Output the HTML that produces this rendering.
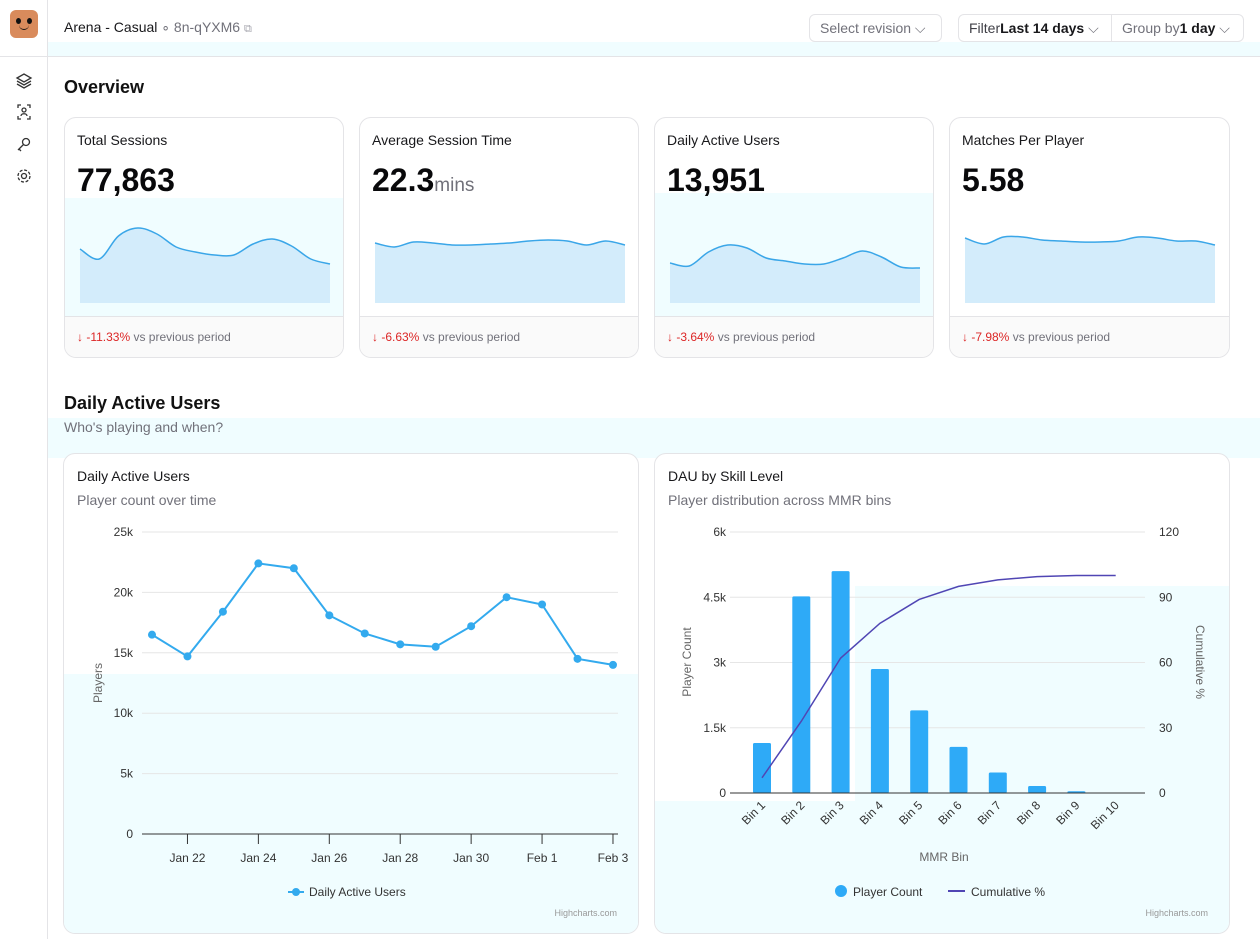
<!DOCTYPE html>
<html><head><meta charset="utf-8"><style>
*{box-sizing:border-box;margin:0;padding:0}
body{width:1260px;height:939px;background:#fff;font-family:"Liberation Sans",sans-serif;color:#111;position:relative;overflow:hidden}
.abs{position:absolute}
.card{position:absolute;border:1px solid #e4e4e7;border-radius:12px;background:#fff;overflow:hidden}
.kt{position:absolute;left:12px;top:14px;font-size:14px;color:#18181b}
.kv{position:absolute;left:12px;top:44px;font-size:32px;font-weight:bold;color:#09090b}
.kv small{font-size:19px;font-weight:normal;color:#71717a}
.foot{position:absolute;left:0;right:0;top:198px;bottom:0;background:#fafafa;border-top:1px solid #e4e4e7;font-size:12px;color:#71717a;padding:13px 12px}
.foot b{color:#dc2626;font-weight:normal}
.btn{position:absolute;top:14px;height:28px;border:1px solid #e4e4e7;border-radius:6px;font-size:14px;color:#71717a;line-height:26px;padding:0 10px}
</style></head><body>
<div class="abs" style="left:0;top:0;width:48px;height:939px;border-right:1px solid #e4e4e7;background:#fff"></div>
<div class="abs" style="left:10px;top:10px;width:28px;height:28px;border-radius:6px;background:#d98b5c">
 <div class="abs" style="left:6px;top:8px;width:5px;height:6px;border-radius:50%;background:#111"></div>
 <div class="abs" style="left:17px;top:8px;width:5px;height:6px;border-radius:50%;background:#111"></div>
 <div class="abs" style="left:9px;top:15px;width:10px;height:5px;border-bottom:1.5px solid #111;border-radius:0 0 6px 6px"></div>
</div>
<div class="abs" style="left:0;top:56px;width:48px;border-top:1px solid #e4e4e7"></div>
<svg class="abs" style="left:14px;top:70px" width="22" height="120" fill="none" stroke="#333" stroke-width="1.3">
 <g><path d="M3 8 L10 4 L17 8 L10 12Z M3 11 L10 15 L17 11 M3 14 L10 18 L17 14"/></g>
 <g><path d="M4 38v-3h3 M13 35h3v3 M4 46v3h3 M13 49h3v-3"/><circle cx="10" cy="40" r="2"/><path d="M7 46c0-3 6-3 6 0"/></g>
 <g><circle cx="12" cy="72" r="3.5"/><path d="M9.5 74.5 L4 80 M5 79 L7 81"/></g>
 <g><circle cx="10" cy="106" r="2.5"/><circle cx="10" cy="106" r="6" stroke-dasharray="3 1.7"/></g>
</svg>
<div class="abs" style="left:48px;top:0;width:1212px;height:57px;border-bottom:1px solid #e4e4e7"></div>
<div class="abs" style="left:48px;top:42px;width:1212px;height:14px;background:#f0fdff"></div>
<div class="abs" style="left:64px;top:19px;font-size:14px;color:#18181b">Arena - Casual <span style="color:#71717a">∘ 8n-qYXM6</span> <span style="color:#a1a1aa;font-size:11px">⧉</span></div>
<div class="btn" style="left:809px;width:133px">Select revision ⌵</div>
<div class="btn" style="left:958px;width:154px;border-radius:6px 0 0 6px"><span style="color:#3f3f46">Filter</span><b style="color:#18181b">Last 14 days</b> ⌵</div>
<div class="btn" style="left:1111px;width:133px;border-radius:0 6px 6px 0">Group by<b style="color:#18181b">1 day</b> ⌵</div>

<div class="abs" style="left:64px;top:77px;font-size:18px;font-weight:bold">Overview</div>

<div class="card" style="left:64px;top:117px;width:280px;height:241px">
 <div class="abs" style="left:0;top:80px;width:280px;height:118px;background:#f0fdff"></div>
 <div class="kt">Total Sessions</div><div class="kv">77,863</div>
 <svg class="abs" style="left:0;top:0" width="280" height="200" id="sp0"></svg>
 <div class="foot"><b>↓ -11.33%</b> vs previous period</div></div>
<div class="card" style="left:359px;top:117px;width:280px;height:241px">
 <div class="kt">Average Session Time</div><div class="kv">22.3<small>mins</small></div>
 <svg class="abs" style="left:0;top:0" width="280" height="200" id="sp1"></svg>
 <div class="foot"><b>↓ -6.63%</b> vs previous period</div></div>
<div class="card" style="left:654px;top:117px;width:280px;height:241px">
 <div class="abs" style="left:0;top:75px;width:280px;height:123px;background:#f0fdff"></div>
 <div class="kt">Daily Active Users</div><div class="kv">13,951</div>
 <svg class="abs" style="left:0;top:0" width="280" height="200" id="sp2"></svg>
 <div class="foot"><b>↓ -3.64%</b> vs previous period</div></div>
<div class="card" style="left:949px;top:117px;width:281px;height:241px">
 <div class="kt">Matches Per Player</div><div class="kv">5.58</div>
 <svg class="abs" style="left:0;top:0" width="280" height="200" id="sp3"></svg>
 <div class="foot"><b>↓ -7.98%</b> vs previous period</div></div>

<div class="abs" style="left:48px;top:418px;width:1212px;height:40px;background:#f0fdff"></div>
<div class="abs" style="left:64px;top:393px;font-size:18px;font-weight:bold">Daily Active Users</div>
<div class="abs" style="left:64px;top:419px;font-size:14px;color:#71717a">Who's playing and when?</div>

<div class="card" style="left:63px;top:453px;width:576px;height:481px;border-color:#e4e4e7">
 <svg class="abs" style="left:0;top:0" width="576" height="481" id="c1"></svg>
</div>
<div class="card" style="left:654px;top:453px;width:576px;height:481px">
 <svg class="abs" style="left:0;top:0" width="576" height="481" id="c2"></svg>
</div>

<script>
const sessionsSpark=[54,44,67,75,69,56,51,48,48,59,64,57,44,39];
const avgSessionSpark=[60,56,61,60,58,58,59,60,62,63,62,58,62,58];
const dauSpark=[40,37,51,58,55,45,42,39,39,45,52,46,36,35];
const matchesSpark=[65,59,66,66,63,62,61,61,62,66,65,62,62,58];

const dauDates=["Jan 21","Jan 22","Jan 23","Jan 24","Jan 25","Jan 26","Jan 27","Jan 28","Jan 29","Jan 30","Jan 31","Feb 1","Feb 2","Feb 3"];
const dauValues=[16500,14700,18400,22400,22000,18100,16600,15700,15500,17200,19600,19000,14500,14000];
const dauTicks=[0,5000,10000,15000,20000,25000];
const dauTickLabels=["0","5k","10k","15k","20k","25k"];
const dateTickLabels=["Jan 22","Jan 24","Jan 26","Jan 28","Jan 30","Feb 1","Feb 3"];

const bins=["Bin 1","Bin 2","Bin 3","Bin 4","Bin 5","Bin 6","Bin 7","Bin 8","Bin 9","Bin 10"];
const binCounts=[1150,4520,5100,2850,1900,1060,470,160,40,5];
const cumulativePct=[7,33,62,78,89,95,98,99.5,100,100];
const leftTicks=[0,1500,3000,4500,6000];
const leftTickLabels=["0","1.5k","3k","4.5k","6k"];
const rightTicks=[0,30,60,90,120];

const NS="http://www.w3.org/2000/svg";
function mk(p,t,a,txt){const e=document.createElementNS(NS,t);for(const k in a)e.setAttribute(k,a[k]);if(txt!==undefined)e.textContent=txt;p.appendChild(e);return e;}
function smooth(pts){let d="M"+pts[0][0]+","+pts[0][1];for(let i=0;i<pts.length-1;i++){const p0=pts[i-1]||pts[i],p1=pts[i],p2=pts[i+1],p3=pts[i+2]||p2;const c1=[p1[0]+(p2[0]-p0[0])/6,p1[1]+(p2[1]-p0[1])/6],c2=[p2[0]-(p3[0]-p1[0])/6,p2[1]-(p3[1]-p1[1])/6];d+=" C"+c1+" "+c2+" "+p2;}return d;}

[sessionsSpark,avgSessionSpark,dauSpark,matchesSpark].forEach((vals,k)=>{
 const s=document.getElementById("sp"+k);
 const sx=i=>15+i*(250/(vals.length-1)), sy=v=>185-v;
 const pts=vals.map((v,i)=>[sx(i),sy(v)]);
 const line=smooth(pts);
 const a=mk(s,"path",{d:line+" L"+sx(vals.length-1)+",185 L15,185Z",fill:"#d3ecfb"});
 
 
 const l=mk(s,"path",{d:line,fill:"none",stroke:"#3aa6e8","stroke-width":1.5});
 
 
});

// Chart 1
(function(){
 const s=document.getElementById("c1");const ox=63,oy=453;
 mk(s,"rect",{x:0,y:220,width:576,height:261,fill:"#f0fdff"});
 mk(s,"rect",{x:0,y:252,width:576,height:229,fill:"#f0fdff"});
 const y=v=>833-oy-v*(302/25000), x=i=>151-ox+i*35.46;
 mk(s,"text",{x:13,y:27,"font-size":14,fill:"#18181b"},"Daily Active Users");
 mk(s,"text",{x:13,y:51,"font-size":14,fill:"#71717a"},"Player count over time");
 dauTicks.forEach((t,i)=>{
  mk(s,"line",{x1:78,x2:554,y1:y(t),y2:y(t),stroke:"#e6e6e6"});
  const tl=mk(s,"text",{x:69,y:y(t)+4,"font-size":12,fill:"#333","text-anchor":"end"},dauTickLabels[i]);
  
  
 });
 mk(s,"line",{x1:78,x2:554,y1:y(0),y2:y(0),stroke:"#333"});
 const yt=mk(s,"text",{x:38,y:229,"font-size":12,fill:"#666","text-anchor":"middle",transform:"rotate(-90 38 229)"},"Players");
 
 
 dateTickLabels.forEach(lbl=>{
  const i=dauDates.indexOf(lbl);
  mk(s,"line",{x1:x(i),x2:x(i),y1:y(0),y2:y(0)+10,stroke:"#333"});
  const t=mk(s,"text",{x:x(i),y:408,"font-size":12,fill:"#333","text-anchor":"middle"},lbl);
  
  
 });
 const ln=mk(s,"path",{d:dauValues.map((v,i)=>(i?"L":"M")+x(i)+","+y(v)).join(" "),fill:"none",stroke:"#33aaee","stroke-width":2});
 
 
 dauValues.forEach((v,i)=>{
  const c=mk(s,"circle",{cx:x(i),cy:y(v),r:4,fill:"#33aaee"});
  
  
 });
 mk(s,"line",{x1:224,x2:240,y1:438,y2:438,stroke:"#33aaee","stroke-width":2});
 mk(s,"circle",{cx:232,cy:438,r:4,fill:"#33aaee"});
 const lg=mk(s,"text",{x:245,y:442,"font-size":12,fill:"#333"},"Daily Active Users");
 
 
 mk(s,"text",{x:553,y:462,"font-size":9,fill:"#999","text-anchor":"end"},"Highcharts.com");
})();

// Chart 2
(function(){
 const s=document.getElementById("c2");const ox=654,oy=453;
 mk(s,"rect",{x:200,y:132,width:376,height:215,fill:"#f0fdff"});
 mk(s,"rect",{x:0,y:347,width:576,height:134,fill:"#f0fdff"});
 const y=v=>792-oy-v*(261/6000), yr=v=>792-oy-v*(261/120), x=i=>761-ox+i*39.3;
 mk(s,"text",{x:13,y:27,"font-size":14,fill:"#18181b"},"DAU by Skill Level");
 mk(s,"text",{x:13,y:51,"font-size":14,fill:"#71717a"},"Player distribution across MMR bins");
 leftTicks.forEach((t,i)=>{
  mk(s,"line",{x1:75,x2:490,y1:y(t),y2:y(t),stroke:"#e6e6e6"});
  mk(s,"text",{x:71,y:y(t)+4,"font-size":12,fill:"#333","text-anchor":"end"},leftTickLabels[i]);
 });
 rightTicks.forEach(t=>mk(s,"text",{x:504,y:yr(t)+4,"font-size":12,fill:"#333"},String(t)));
 mk(s,"text",{x:36,y:208,"font-size":12,fill:"#666","text-anchor":"middle",transform:"rotate(-90 36 208)"},"Player Count");
 mk(s,"text",{x:541,y:208,"font-size":12,fill:"#666","text-anchor":"middle",transform:"rotate(90 541 208)"},"Cumulative %");
 binCounts.forEach((v,i)=>{
  const r=mk(s,"rect",{x:x(i)-9,y:y(v),width:18,height:y(0)-y(v),fill:"#2eaaf7",rx:1.5});
  
  
 });
 mk(s,"line",{x1:75,x2:490,y1:y(0),y2:y(0),stroke:"#333"});
 const cl=mk(s,"path",{d:cumulativePct.map((v,i)=>(i?"L":"M")+x(i)+","+yr(v)).join(" "),fill:"none",stroke:"#5046b4","stroke-width":1.5});
 
 
 bins.forEach((b,i)=>{
  const t=mk(s,"text",{x:x(i)+4,y:352,"font-size":12,fill:"#333","text-anchor":"end",transform:"rotate(-45 "+(x(i)+4)+" 352)"},b);
  
  
 });
 mk(s,"text",{x:289,y:407,"font-size":12,fill:"#666","text-anchor":"middle"},"MMR Bin");
 mk(s,"circle",{cx:186,cy:437,r:6,fill:"#2eaaf7"});
 const l1=mk(s,"text",{x:198,y:442,"font-size":12,fill:"#333"},"Player Count");
 
 
 mk(s,"line",{x1:293,x2:310,y1:437,y2:437,stroke:"#5046b4","stroke-width":2});
 const l2=mk(s,"text",{x:316,y:442,"font-size":12,fill:"#333"},"Cumulative %");
 
 
 mk(s,"text",{x:553,y:462,"font-size":9,fill:"#999","text-anchor":"end"},"Highcharts.com");
})();
</script>
</body></html>
